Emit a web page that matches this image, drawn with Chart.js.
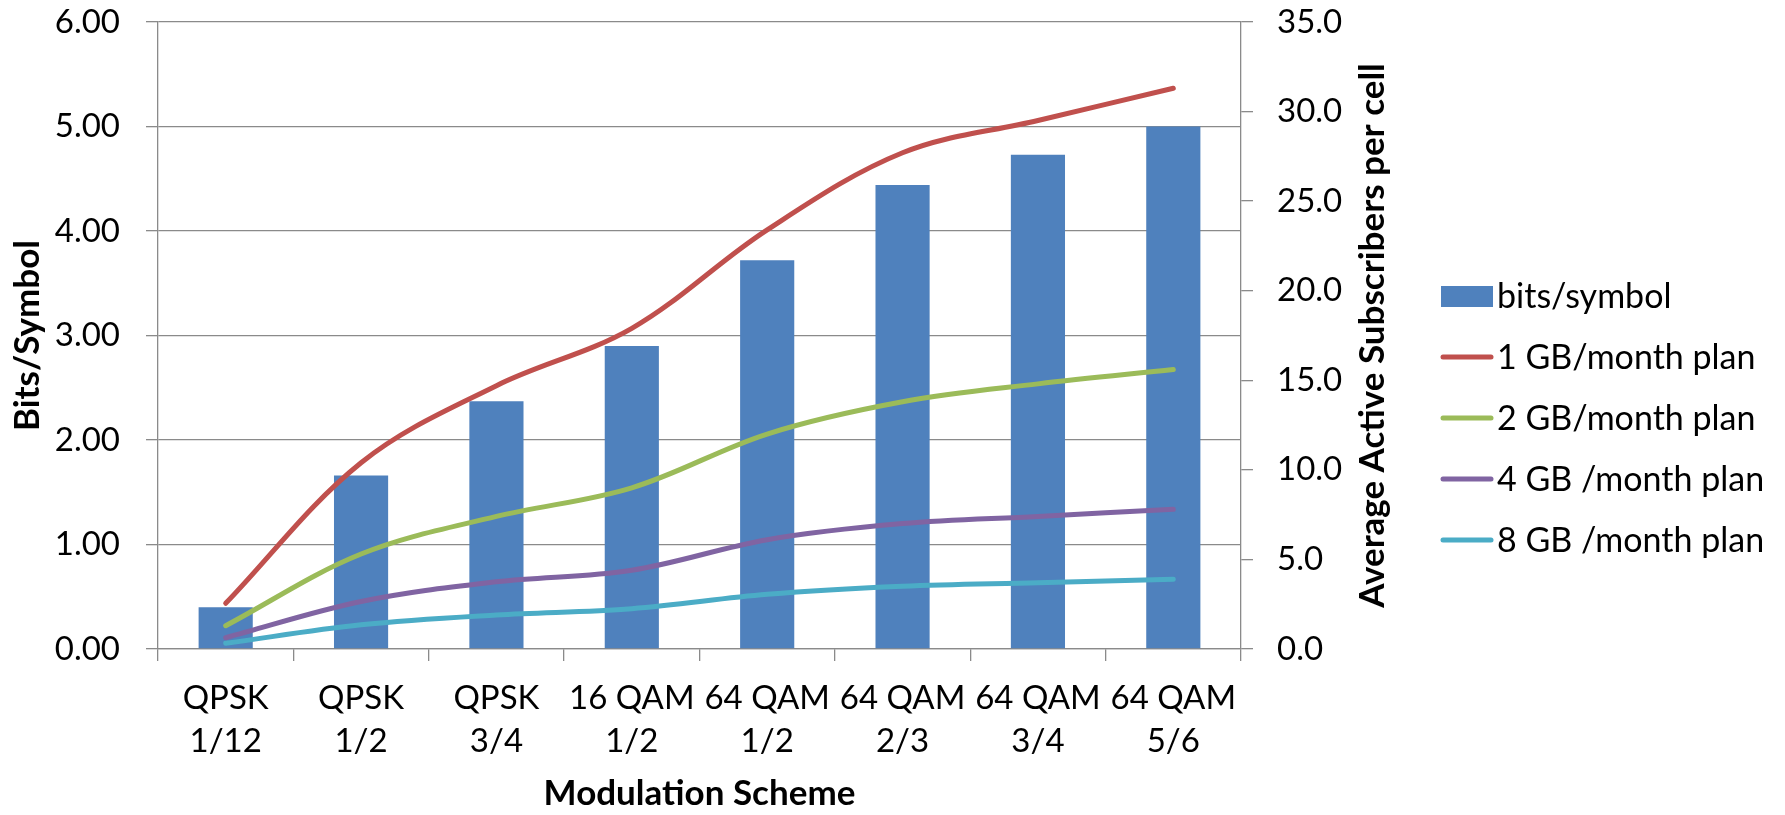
<!DOCTYPE html>
<html>
<head>
<meta charset="utf-8">
<script src="https://cdn.jsdelivr.net/npm/chart.js@4.4.1/dist/chart.umd.min.js"></script>
<style>
  html, body { margin: 0; padding: 0; background: #fff; }
  #wrap { width: 1785px; height: 815px; position: relative; }
</style>
</head>
<body>
<div id="wrap"><canvas id="modChart"></canvas></div>
<script>
var categories = [
  ['QPSK', '1/12'], ['QPSK', '1/2'], ['QPSK', '3/4'], ['16 QAM', '1/2'],
  ['64 QAM', '1/2'], ['64 QAM', '2/3'], ['64 QAM', '3/4'], ['64 QAM', '5/6']
];
var bitsPerSymbol = [0.40, 1.66, 2.37, 2.90, 3.72, 4.44, 4.73, 5.00];
var plan1GB = [2.55, 10.4, 14.7, 17.9, 23.4, 27.7, 29.5, 31.3];
var plan2GB = [1.30, 5.3, 7.4, 9.0, 12.0, 13.8, 14.8, 15.6];
var plan4GB = [0.63, 2.65, 3.75, 4.4, 6.1, 7.0, 7.4, 7.8];
var plan8GB = [0.32, 1.35, 1.9, 2.25, 3.05, 3.5, 3.7, 3.9];

var leftTitle = 'Bits/Symbol';
var rightTitle = 'Average Active Subscribers per cell';
var xTitle = 'Modulation Scheme';

Chart.defaults.font.family = 'Lato';
Chart.defaults.color = '#000';

var gridColor = '#8a8a8a';
var tickFont = { size: 33, lineHeight: 1.33 };
var titleFont = { size: 35, weight: 'bold', lineHeight: 1.2 };

function lineSet(label, values, color) {
  return {
    type: 'line',
    label: label,
    data: values,
    yAxisID: 'y1',
    borderColor: color,
    backgroundColor: color,
    borderWidth: 5,
    borderCapStyle: 'round',
    borderJoinStyle: 'round',
    pointRadius: 0,
    pointHoverRadius: 0,
    tension: 0.35,
    fill: false,
    order: 0
  };
}

// legend drawn on the right, Excel style
var sideLegend = {
  id: 'sideLegend',
  afterDraw: function(chart) {
    var ctx = chart.ctx;
    var sets = chart.data.datasets;
    ctx.save();
    ctx.font = '34px Lato';
    ctx.textBaseline = 'middle';
    ctx.textAlign = 'left';
    for (var i = 0; i < sets.length; i++) {
      var y = 296 + i * 61;
      if (sets[i].type === 'bar') {
        ctx.fillStyle = sets[i].backgroundColor;
        ctx.fillRect(1441, y - 10, 52, 21);
      } else {
        ctx.strokeStyle = sets[i].borderColor;
        ctx.lineWidth = 5;
        ctx.lineCap = 'round';
        ctx.beginPath();
        ctx.moveTo(1443, y);
        ctx.lineTo(1491, y);
        ctx.stroke();
      }
      ctx.fillStyle = '#000';
      ctx.fillText(sets[i].label, 1497, y + 1);
    }
    // secondary axis title, reading bottom to top
    var area = chart.chartArea;
    ctx.font = 'bold 35px Lato';
    ctx.textAlign = 'center';
    ctx.translate(1373, (area.top + area.bottom) / 2);
    ctx.rotate(-Math.PI / 2);
    ctx.fillText(rightTitle, 0, 0);
    ctx.restore();
  }
};

function fixVertical(width) {
  return function(s) {
    s.width = width;
    s.paddingTop = 0;
    s.paddingBottom = 0;
  };
}

var ctx = document.getElementById('modChart').getContext('2d');

var modChart = new Chart(ctx, {
  type: 'bar',
  data: {
    labels: categories,
    datasets: [
      {
        type: 'bar',
        label: 'bits/symbol',
        data: bitsPerSymbol,
        yAxisID: 'y',
        backgroundColor: '#4F81BD',
        borderWidth: 0,
        barPercentage: 0.4,
        categoryPercentage: 1.0,
        order: 1
      },
      lineSet('1 GB/month plan', plan1GB, '#C0504D'),
      lineSet('2 GB/month plan', plan2GB, '#9BBB59'),
      lineSet('4 GB /month plan', plan4GB, '#8064A2'),
      lineSet('8 GB /month plan', plan8GB, '#4BACC6')
    ]
  },
  options: {
    responsive: true,
    maintainAspectRatio: false,
    animation: false,
    layout: { padding: { left: 0, right: 392, top: 22, bottom: 0 } },
    plugins: {
      legend: { display: false },
      tooltip: { enabled: false }
    },
    scales: {
      x: {
        grid: { drawOnChartArea: false, color: gridColor, tickLength: 12, lineWidth: 1.3 },
        border: { color: gridColor, width: 1.3 },
        ticks: { font: tickFont, padding: 15, maxRotation: 0, autoSkip: false },
        title: { display: true, text: xTitle, font: titleFont, padding: { top: 0, bottom: 0 } },
        afterFit: function(s) { s.height = 166; s.paddingLeft = 0; s.paddingRight = 0; }
      },
      y: {
        position: 'left',
        min: 0,
        max: 6,
        grid: { color: gridColor, tickLength: 12, lineWidth: 1.3 },
        border: { color: gridColor, width: 1.3 },
        ticks: {
          stepSize: 1,
          font: { size: 33, lineHeight: 1.2 },
          padding: 26,
          callback: function(v) { return v.toFixed(2); }
        },
        title: { display: true, text: leftTitle, font: titleFont, padding: { top: 7, bottom: 0 } },
        afterFit: fixVertical(158)
      },
      y1: {
        position: 'right',
        min: 0,
        max: 35,
        grid: { drawOnChartArea: false, color: gridColor, tickLength: 12, lineWidth: 1.3 },
        border: { color: gridColor, width: 1.3 },
        ticks: {
          stepSize: 5,
          font: { size: 33, lineHeight: 1.2 },
          padding: 24,
          callback: function(v) { return v.toFixed(1); }
        },
        title: { display: false },
        afterFit: fixVertical(152)
      }
    }
  },
  plugins: [sideLegend]
});
</script>
</body>
</html>
